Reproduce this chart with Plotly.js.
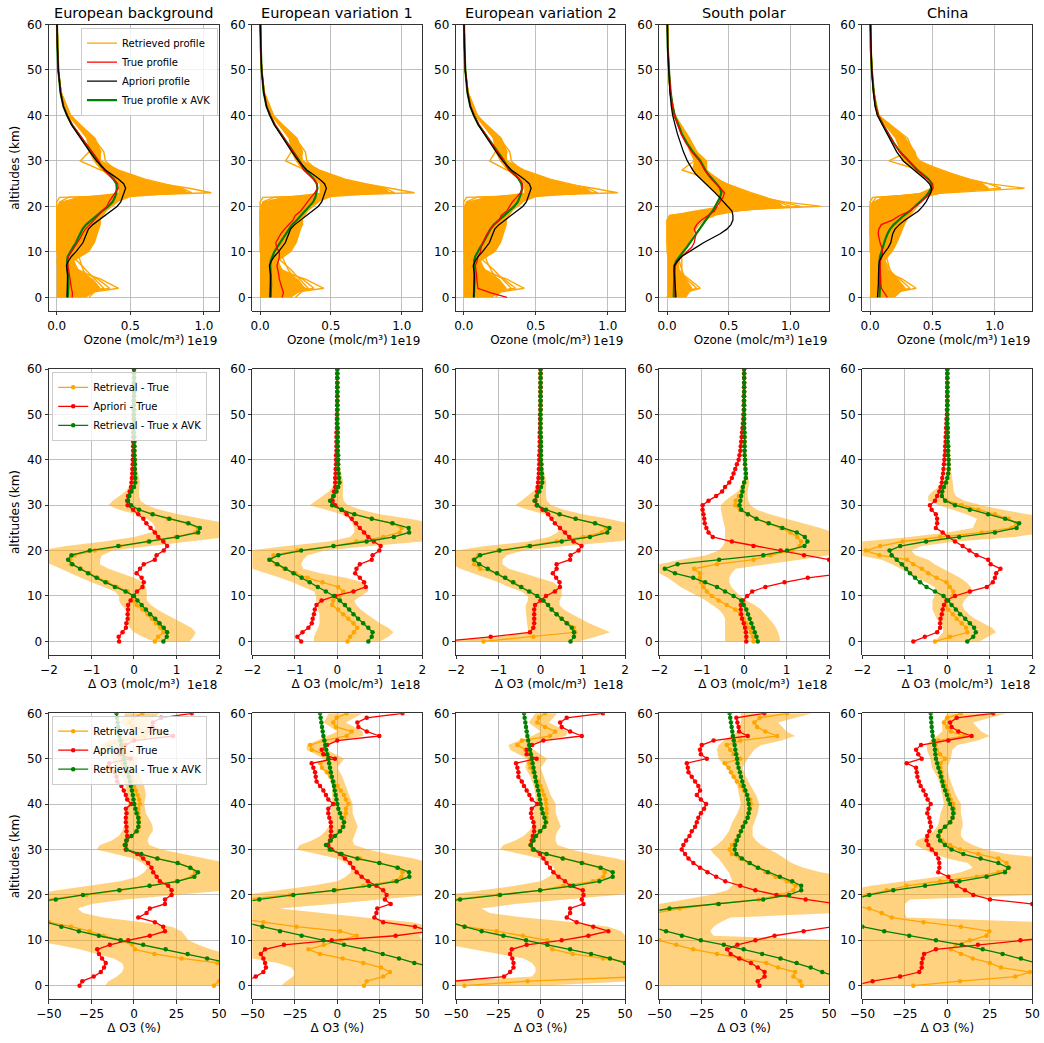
<!DOCTYPE html>
<html><head><meta charset="utf-8">
<script src="https://cdn.plot.ly/plotly-3.0.1.min.js"></script>
<style>body{margin:0;padding:0;background:#fff}#chart{width:1044px;height:1043px}</style>
</head><body><div id="chart"></div>
<script>
// ---------------- DATA ----------------
const panelTitles = ["European background","European variation 1","European variation 2","South polar","China"];
// altitude grids (km)
const ALT = [0,1,2,3,4,5,6,7,8,9,10,11,12,13,14,15,16,17,18,19,20,21,22,23,24,25,26,27,28,29,30,31,32,33,34,35,36,37,38,39,40,41,42,43,44,45,46,47,48,49,50,51,52,53,54,55,56,57,58,59,60];
const ALT_P = [0,1,2,3,4,5,6,7,8,9,10,11,12,13,14,15,16,17,18,19,20,21,22,23,24,25,26,27,28,29,30,32,34,36,38,40,42,45,50,55,60];
const ALT_R = [0,2,4,6,8,10,12,14,16,17,18,19,20,21,22,23,24,25,26,28,30,32,35,40,45,50,60];
const ALT_B2 = [0,1,2,3,4,5,6,7,8,9,10,11,12,13,14,15,16,17,18,19,20,21,22,23,24,25,26,27,28,29,30,31,32,33,34,35,36,38,40,45,50,55,60];
const ALT_B3 = [0,1,2,3,4,5,6,7,8,9,10,11,12,13,14,15,16,17,18,19,20,21,22,23,24,25,26,27,28,29,30,31,32,33,34,35,36,38,40,42,44,46,48,50,52,53,54,55,56,58,60];

// Row 1: ozone profiles (units 1e19 molc/m3), on ALT_P
const aprioriEU = [0.07,0.071,0.073,0.075,0.076,0.074,0.07,0.066,0.08,0.1,0.13,0.155,0.178,0.19,0.2,0.215,0.245,0.285,0.33,0.37,0.41,0.435,0.445,0.46,0.468,0.455,0.42,0.375,0.33,0.3,0.27,0.225,0.185,0.145,0.1,0.07,0.045,0.026,0.011,0.005,0.002];
const trueEB = [0.105,0.107,0.1,0.095,0.094,0.09,0.085,0.078,0.072,0.08,0.1,0.12,0.145,0.16,0.175,0.195,0.225,0.255,0.28,0.315,0.34,0.355,0.375,0.4,0.418,0.415,0.39,0.355,0.32,0.3,0.285,0.24,0.195,0.15,0.105,0.072,0.047,0.027,0.011,0.005,0.002];
const avkEB = [0.075,0.078,0.08,0.08,0.078,0.075,0.072,0.07,0.07,0.075,0.09,0.11,0.13,0.145,0.16,0.175,0.2,0.235,0.27,0.31,0.35,0.38,0.395,0.405,0.408,0.405,0.385,0.355,0.325,0.3,0.28,0.235,0.19,0.148,0.103,0.071,0.046,0.026,0.011,0.005,0.002];
const trueEV1 = [0.155,0.165,0.155,0.143,0.136,0.132,0.125,0.119,0.129,0.137,0.135,0.117,0.111,0.127,0.147,0.173,0.2,0.232,0.249,0.287,0.311,0.333,0.359,0.387,0.405,0.402,0.376,0.341,0.308,0.29,0.275,0.234,0.19,0.15,0.104,0.073,0.047,0.027,0.011,0.005,0.002];
const avkEV1 = [0.075,0.077,0.078,0.078,0.077,0.075,0.073,0.072,0.075,0.085,0.1,0.12,0.14,0.16,0.18,0.2,0.225,0.26,0.29,0.32,0.35,0.375,0.39,0.4,0.405,0.4,0.38,0.35,0.32,0.297,0.278,0.235,0.19,0.148,0.103,0.071,0.046,0.026,0.011,0.005,0.002];
const trueEV2 = [0.3,0.189,0.098,0.092,0.091,0.089,0.085,0.081,0.093,0.1,0.117,0.121,0.132,0.145,0.163,0.186,0.207,0.247,0.26,0.299,0.32,0.338,0.367,0.392,0.41,0.409,0.386,0.349,0.312,0.295,0.279,0.234,0.192,0.15,0.104,0.073,0.047,0.027,0.011,0.005,0.002];
const avkEV2 = [0.07,0.072,0.074,0.075,0.075,0.074,0.072,0.07,0.072,0.08,0.095,0.115,0.135,0.15,0.168,0.185,0.21,0.245,0.28,0.315,0.35,0.375,0.39,0.4,0.405,0.4,0.382,0.352,0.322,0.298,0.28,0.235,0.19,0.148,0.103,0.071,0.046,0.026,0.011,0.005,0.002];
const aprioriSP = [0.073,0.07,0.068,0.065,0.062,0.06,0.057,0.06,0.084,0.119,0.173,0.236,0.295,0.363,0.431,0.485,0.518,0.534,0.534,0.526,0.49,0.453,0.425,0.39,0.35,0.309,0.268,0.236,0.209,0.187,0.165,0.133,0.106,0.084,0.065,0.046,0.035,0.024,0.014,0.005,0.003];
const trueSP = [0.068,0.066,0.064,0.063,0.063,0.063,0.064,0.068,0.09,0.12,0.16,0.2,0.22,0.23,0.235,0.22,0.24,0.28,0.334,0.385,0.404,0.43,0.454,0.465,0.434,0.4,0.36,0.33,0.305,0.285,0.263,0.2,0.151,0.113,0.086,0.059,0.044,0.03,0.016,0.006,0.003];
const avkSP = [0.055,0.056,0.057,0.058,0.058,0.058,0.058,0.06,0.075,0.1,0.13,0.16,0.185,0.21,0.235,0.26,0.285,0.31,0.34,0.37,0.39,0.41,0.43,0.44,0.43,0.4,0.365,0.335,0.31,0.29,0.27,0.21,0.16,0.12,0.09,0.062,0.046,0.03,0.016,0.006,0.003];
const aprioriCN = [0.059,0.063,0.067,0.067,0.067,0.067,0.067,0.07,0.075,0.094,0.12,0.147,0.166,0.174,0.182,0.2,0.235,0.281,0.334,0.388,0.422,0.449,0.468,0.487,0.495,0.476,0.441,0.396,0.348,0.307,0.267,0.214,0.174,0.134,0.094,0.059,0.04,0.027,0.013,0.005,0.003];
const trueCN = [0.139,0.116,0.091,0.086,0.084,0.082,0.08,0.081,0.083,0.096,0.1,0.094,0.08,0.07,0.065,0.07,0.09,0.179,0.238,0.319,0.37,0.413,0.45,0.485,0.506,0.503,0.465,0.42,0.375,0.344,0.308,0.238,0.19,0.146,0.103,0.066,0.045,0.03,0.014,0.005,0.003];
const avkCN = [0.075,0.078,0.08,0.08,0.08,0.078,0.076,0.075,0.076,0.08,0.09,0.1,0.11,0.125,0.14,0.16,0.19,0.23,0.27,0.32,0.36,0.4,0.44,0.47,0.49,0.495,0.47,0.425,0.38,0.345,0.31,0.24,0.19,0.146,0.103,0.066,0.045,0.03,0.014,0.005,0.003];

// Dense core of the retrieved-profile bundle (lower / upper edge), on ALT_R
const envLoEB = [0,0,0,0,0,0,0,0,0,0,0,0,0,0.02,0.15,0.42,0.42,0.42,0.38,0.3,0.25,0.22,0.2,0.08,0.028,0.01,0.003];
const envHiEB = [0.2,0.3,0.25,0.15,0.12,0.22,0.26,0.28,0.3,0.3,0.32,0.34,0.38,0.42,0.5,0.9,0.85,0.7,0.6,0.42,0.3,0.3,0.26,0.095,0.032,0.011,0.003];
const envLoEV1 = [0,0,0,0,0,0,0,0,0,0,0,0,0,0.02,0.15,0.42,0.42,0.42,0.38,0.3,0.25,0.22,0.2,0.08,0.028,0.01,0.003];
const envHiEV1 = [0.22,0.32,0.27,0.16,0.13,0.22,0.26,0.28,0.3,0.3,0.32,0.34,0.38,0.42,0.5,0.92,0.88,0.72,0.6,0.42,0.3,0.3,0.26,0.095,0.032,0.011,0.003];
const envLoEV2 = [0,0,0,0,0,0,0,0,0,0,0,0,0,0.02,0.15,0.42,0.42,0.42,0.38,0.3,0.25,0.22,0.2,0.08,0.028,0.01,0.003];
const envHiEV2 = [0.2,0.3,0.25,0.15,0.12,0.22,0.26,0.28,0.3,0.3,0.32,0.34,0.38,0.42,0.5,0.9,0.85,0.7,0.6,0.42,0.3,0.3,0.26,0.095,0.032,0.011,0.003];
const envLoSP = [0,0,0,0,0,0,0,0,0,0,0.02,0.2,0.42,0.42,0.42,0.4,0.36,0.32,0.28,0.2,0.22,0.18,0.15,0.055,0.022,0.013,0.003];
const envHiSP = [0.15,0.2,0.15,0.1,0.1,0.14,0.18,0.22,0.25,0.28,0.4,0.6,0.95,0.9,0.78,0.65,0.56,0.48,0.42,0.32,0.32,0.24,0.18,0.065,0.026,0.015,0.003];
const envLoCN = [0,0,0,0,0,0,0,0,0,0,0,0,0,0.02,0.1,0.4,0.48,0.48,0.45,0.35,0.26,0.24,0.2,0.055,0.028,0.012,0.003];
const envHiCN = [0.2,0.28,0.22,0.15,0.12,0.18,0.22,0.25,0.28,0.3,0.32,0.34,0.36,0.4,0.45,0.6,0.95,0.9,0.8,0.56,0.38,0.36,0.28,0.07,0.032,0.014,0.003];

// Individual retrieved profiles (a sample of the bundle), on ALT_R
const retrievedEB = [
 [0.00,0.42,0.30,0.12,0.03,0.00,0.00,0.00,0.00,0.00,0.00,0.00,0.00,0.00,0.02,1.05,0.90,0.70,0.55,0.30,0.16,0.22,0.24,0.095,0.03,0.01,0.003],
 [0.02,0.36,0.28,0.15,0.08,0.03,0.01,0.00,0.00,0.00,0.00,0.00,0.01,0.02,0.08,0.92,0.85,0.72,0.60,0.42,0.30,0.27,0.24,0.095,0.03,0.01,0.003],
 [0.08,0.32,0.26,0.20,0.14,0.08,0.05,0.04,0.03,0.03,0.03,0.03,0.04,0.05,0.15,0.85,0.80,0.68,0.55,0.38,0.28,0.30,0.26,0.09,0.03,0.01,0.003],
 [0.15,0.28,0.22,0.18,0.16,0.14,0.12,0.10,0.08,0.08,0.07,0.07,0.06,0.08,0.25,0.75,0.75,0.65,0.55,0.40,0.33,0.32,0.25,0.09,0.03,0.01,0.003],
 [0.05,0.22,0.20,0.12,0.10,0.14,0.18,0.20,0.20,0.20,0.18,0.16,0.14,0.15,0.35,0.65,0.66,0.60,0.52,0.38,0.30,0.28,0.23,0.09,0.03,0.01,0.003],
 [0.01,0.12,0.10,0.06,0.05,0.10,0.18,0.24,0.28,0.28,0.28,0.27,0.26,0.28,0.42,0.58,0.58,0.54,0.48,0.36,0.28,0.26,0.22,0.085,0.03,0.01,0.003],
 [0.22,0.28,0.20,0.10,0.03,0.02,0.06,0.12,0.18,0.21,0.24,0.26,0.28,0.32,0.45,0.52,0.52,0.48,0.44,0.34,0.27,0.25,0.22,0.085,0.03,0.01,0.003],
 [0.00,0.06,0.05,0.02,0.00,0.03,0.10,0.16,0.22,0.26,0.30,0.32,0.34,0.38,0.46,0.48,0.47,0.44,0.40,0.32,0.26,0.24,0.21,0.08,0.03,0.01,0.003]
];
const retrievedEV1 = [
 [0.00,0.45,0.32,0.12,0.03,0.00,0.00,0.00,0.00,0.00,0.00,0.00,0.00,0.00,0.02,1.09,0.92,0.72,0.55,0.32,0.18,0.22,0.24,0.095,0.03,0.01,0.003],
 [0.04,0.38,0.30,0.16,0.08,0.03,0.01,0.00,0.00,0.00,0.00,0.00,0.01,0.02,0.10,0.95,0.88,0.74,0.60,0.42,0.30,0.27,0.24,0.095,0.03,0.01,0.003],
 [0.10,0.34,0.28,0.22,0.15,0.08,0.05,0.04,0.03,0.03,0.03,0.03,0.04,0.05,0.18,0.86,0.82,0.68,0.55,0.38,0.28,0.30,0.26,0.09,0.03,0.01,0.003],
 [0.16,0.30,0.25,0.20,0.17,0.14,0.12,0.10,0.08,0.08,0.07,0.07,0.06,0.08,0.28,0.78,0.76,0.65,0.55,0.40,0.33,0.32,0.25,0.09,0.03,0.01,0.003],
 [0.06,0.24,0.22,0.14,0.12,0.15,0.19,0.21,0.21,0.20,0.18,0.16,0.14,0.15,0.36,0.66,0.66,0.60,0.52,0.38,0.30,0.28,0.23,0.09,0.03,0.01,0.003],
 [0.02,0.14,0.12,0.08,0.06,0.12,0.20,0.26,0.30,0.30,0.29,0.28,0.27,0.29,0.42,0.58,0.58,0.54,0.48,0.36,0.28,0.26,0.22,0.085,0.03,0.01,0.003],
 [0.25,0.32,0.22,0.12,0.05,0.03,0.07,0.13,0.19,0.22,0.25,0.27,0.29,0.33,0.46,0.52,0.52,0.48,0.44,0.34,0.27,0.25,0.22,0.085,0.03,0.01,0.003],
 [0.00,0.08,0.06,0.03,0.01,0.04,0.11,0.17,0.23,0.27,0.31,0.33,0.35,0.39,0.46,0.48,0.47,0.44,0.40,0.32,0.26,0.24,0.21,0.08,0.03,0.01,0.003]
];
const retrievedEV2 = [
 [0.00,0.42,0.30,0.12,0.03,0.00,0.00,0.00,0.00,0.00,0.00,0.00,0.00,0.00,0.02,1.07,0.90,0.70,0.55,0.30,0.18,0.22,0.24,0.095,0.03,0.01,0.003],
 [0.03,0.36,0.28,0.15,0.08,0.03,0.01,0.00,0.00,0.00,0.00,0.00,0.01,0.02,0.09,0.93,0.86,0.72,0.60,0.42,0.30,0.27,0.24,0.095,0.03,0.01,0.003],
 [0.09,0.33,0.27,0.21,0.14,0.08,0.05,0.04,0.03,0.03,0.03,0.03,0.04,0.05,0.16,0.86,0.80,0.68,0.55,0.38,0.28,0.30,0.26,0.09,0.03,0.01,0.003],
 [0.15,0.29,0.23,0.19,0.16,0.14,0.12,0.10,0.08,0.08,0.07,0.07,0.06,0.08,0.26,0.76,0.75,0.65,0.55,0.40,0.33,0.32,0.25,0.09,0.03,0.01,0.003],
 [0.05,0.22,0.20,0.12,0.10,0.14,0.18,0.20,0.20,0.20,0.18,0.16,0.14,0.15,0.35,0.65,0.66,0.60,0.52,0.38,0.30,0.28,0.23,0.09,0.03,0.01,0.003],
 [0.01,0.12,0.10,0.06,0.05,0.10,0.18,0.24,0.28,0.28,0.28,0.27,0.26,0.28,0.42,0.58,0.58,0.54,0.48,0.36,0.28,0.26,0.22,0.085,0.03,0.01,0.003],
 [0.22,0.28,0.20,0.10,0.03,0.02,0.06,0.12,0.18,0.21,0.24,0.26,0.28,0.32,0.45,0.52,0.52,0.48,0.44,0.34,0.27,0.25,0.22,0.085,0.03,0.01,0.003],
 [0.00,0.06,0.05,0.02,0.00,0.03,0.10,0.16,0.22,0.26,0.30,0.32,0.34,0.38,0.46,0.48,0.47,0.44,0.40,0.32,0.26,0.24,0.21,0.08,0.03,0.01,0.003]
];
const retrievedSP = [
 [0.00,0.27,0.18,0.08,0.02,0.00,0.00,0.00,0.00,0.00,0.02,0.30,1.25,0.95,0.75,0.60,0.50,0.42,0.35,0.12,0.22,0.20,0.17,0.065,0.025,0.014,0.003],
 [0.02,0.24,0.16,0.10,0.06,0.02,0.00,0.00,0.00,0.00,0.03,0.45,1.08,0.92,0.78,0.65,0.55,0.45,0.38,0.25,0.28,0.22,0.18,0.065,0.025,0.014,0.003],
 [0.06,0.20,0.15,0.12,0.10,0.08,0.05,0.03,0.02,0.02,0.08,0.55,1.00,0.90,0.80,0.68,0.58,0.48,0.40,0.30,0.30,0.24,0.18,0.06,0.025,0.014,0.003],
 [0.10,0.18,0.14,0.12,0.12,0.12,0.10,0.08,0.06,0.06,0.15,0.55,0.85,0.82,0.74,0.65,0.56,0.48,0.40,0.32,0.32,0.24,0.18,0.06,0.025,0.014,0.003],
 [0.04,0.14,0.10,0.06,0.08,0.14,0.16,0.16,0.14,0.14,0.25,0.55,0.72,0.72,0.66,0.58,0.52,0.46,0.40,0.30,0.28,0.22,0.17,0.06,0.025,0.014,0.003],
 [0.00,0.08,0.06,0.04,0.05,0.10,0.16,0.20,0.22,0.24,0.32,0.50,0.62,0.62,0.58,0.54,0.50,0.44,0.38,0.30,0.27,0.21,0.16,0.06,0.025,0.014,0.003],
 [0.15,0.20,0.12,0.05,0.02,0.04,0.10,0.18,0.24,0.28,0.36,0.46,0.55,0.56,0.54,0.50,0.46,0.42,0.36,0.28,0.26,0.20,0.16,0.055,0.025,0.014,0.003],
 [0.00,0.04,0.04,0.02,0.01,0.04,0.12,0.20,0.26,0.30,0.38,0.44,0.48,0.50,0.50,0.46,0.42,0.38,0.34,0.27,0.25,0.20,0.16,0.055,0.025,0.014,0.003]
];
const retrievedCN = [
 [0.00,0.37,0.26,0.10,0.03,0.00,0.00,0.00,0.00,0.00,0.00,0.00,0.00,0.00,0.02,0.60,1.24,0.95,0.75,0.40,0.15,0.30,0.28,0.07,0.03,0.013,0.003],
 [0.02,0.32,0.24,0.14,0.08,0.03,0.01,0.00,0.00,0.00,0.00,0.00,0.00,0.02,0.05,0.55,1.05,0.95,0.80,0.55,0.30,0.35,0.30,0.07,0.03,0.013,0.003],
 [0.07,0.28,0.22,0.16,0.12,0.08,0.05,0.03,0.02,0.02,0.02,0.02,0.03,0.04,0.10,0.55,0.95,0.90,0.78,0.58,0.38,0.36,0.28,0.065,0.03,0.013,0.003],
 [0.12,0.24,0.20,0.16,0.14,0.12,0.10,0.08,0.06,0.06,0.06,0.06,0.07,0.10,0.20,0.55,0.85,0.82,0.72,0.55,0.40,0.34,0.27,0.065,0.03,0.013,0.003],
 [0.04,0.18,0.16,0.10,0.08,0.12,0.16,0.18,0.18,0.18,0.18,0.18,0.20,0.24,0.32,0.52,0.72,0.72,0.66,0.50,0.36,0.30,0.25,0.065,0.03,0.013,0.003],
 [0.00,0.10,0.08,0.05,0.04,0.08,0.16,0.22,0.26,0.27,0.28,0.30,0.32,0.34,0.38,0.50,0.62,0.64,0.58,0.45,0.33,0.28,0.24,0.06,0.03,0.013,0.003],
 [0.16,0.22,0.15,0.06,0.02,0.03,0.08,0.14,0.20,0.22,0.25,0.28,0.30,0.34,0.40,0.48,0.55,0.56,0.52,0.42,0.31,0.27,0.23,0.06,0.03,0.013,0.003],
 [0.00,0.05,0.04,0.02,0.01,0.03,0.10,0.17,0.24,0.28,0.32,0.35,0.38,0.40,0.44,0.48,0.52,0.52,0.48,0.38,0.30,0.26,0.22,0.06,0.03,0.013,0.003]
];

// Row 2: absolute differences (units 1e18 molc/m3), on ALT
const dRetEB = [0.49,0.57,0.69,0.62,0.52,0.42,0.32,0.20,0.06,-0.02,-0.02,-0.15,-0.40,-0.62,-0.85,-1.05,-1.25,-1.49,-1.50,-1.40,-0.92,-0.33,0.33,0.98,1.45,1.50,1.25,0.80,0.42,0.10,-0.08,-0.15,-0.12,-0.07,-0.01,0.02,0.03,0.03,0.02,0.02,0.01,0.01,0.01,0.01,0,0,0,0,0,0,0,0,0,0,0,0,0,0,0,0,0];
const dAvkEB = [0.69,0.77,0.78,0.70,0.60,0.50,0.38,0.28,0.18,0.08,0.0,-0.20,-0.45,-0.67,-0.88,-1.08,-1.27,-1.45,-1.55,-1.47,-1.04,-0.37,0.36,1.02,1.51,1.55,1.28,0.83,0.44,0.12,-0.07,-0.14,-0.11,-0.06,0.0,0.03,0.03,0.02,0.02,0.02,0.02,0.01,0.01,0.01,0.01,0.01,0,0,0,0,0,0,0,0,0,0,0,0,0,0,0];
const dAprEB = [-0.35,-0.36,-0.27,-0.19,-0.18,-0.15,-0.15,-0.14,-0.14,-0.08,-0.02,0.07,0.20,0.23,0.18,0.06,0.14,0.23,0.49,0.53,0.70,0.78,0.69,0.57,0.49,0.39,0.29,0.22,0.10,-0.02,-0.15,-0.16,-0.14,-0.10,-0.07,-0.06,-0.05,-0.04,-0.04,-0.03,-0.03,-0.02,-0.02,-0.02,-0.02,-0.02,-0.02,-0.02,-0.01,-0.01,-0.01,-0.01,-0.01,-0.01,0,0,0,0,0,0,0];
const dRetEV1 = [0.24,0.30,0.39,0.47,0.38,0.26,0.14,0.02,-0.12,-0.10,0.05,0.14,0.02,-0.35,-0.70,-0.98,-1.25,-1.45,-1.57,-1.50,-0.94,-0.09,0.45,1.08,1.47,1.51,1.28,0.81,0.40,0.10,-0.12,-0.17,-0.09,-0.02,0.02,0.05,0.04,0.03,0.02,0.02,0.02,0.01,0.01,0.01,0.01,0.01,0.01,0,0,0,0,0,0,0,0,0,0,0,0,0,0];
const dAvkEV1 = [0.73,0.81,0.83,0.73,0.61,0.49,0.38,0.28,0.18,0.06,-0.08,-0.27,-0.46,-0.65,-0.84,-1.03,-1.22,-1.41,-1.60,-1.39,-0.85,-0.09,0.69,1.33,1.69,1.68,1.30,0.81,0.40,0.10,-0.12,-0.17,-0.09,-0.02,0.02,0.05,0.04,0.03,0.02,0.02,0.02,0.02,0.01,0.01,0.01,0.01,0.01,0.01,0,0,0,0,0,0,0,0,0,0,0,0,0];
const dAprEV1 = [-0.85,-0.94,-0.82,-0.68,-0.60,-0.58,-0.55,-0.53,-0.49,-0.37,-0.05,0.38,0.67,0.63,0.53,0.42,0.45,0.53,0.81,0.83,0.99,1.02,0.86,0.73,0.63,0.53,0.44,0.34,0.22,0.10,-0.05,-0.11,-0.09,-0.08,-0.05,-0.05,-0.05,-0.04,-0.04,-0.03,-0.03,-0.03,-0.02,-0.02,-0.02,-0.02,-0.02,-0.01,-0.01,-0.01,-0.01,0,0,0,0,0,0,0,0,0,0];
const dRetEV2 = [-1.35,-0.17,0.82,0.79,0.64,0.50,0.38,0.27,0.17,0.05,-0.06,-0.25,-0.44,-0.63,-0.82,-1.03,-1.43,-1.57,-1.59,-1.47,-1.0,-0.3,0.38,1.01,1.45,1.55,1.29,0.83,0.45,0.13,-0.08,-0.14,-0.09,-0.03,0.01,0.04,0.04,0.03,0.02,0.02,0.01,0.01,0.01,0.01,0.01,0,0,0,0,0,0,0,0,0,0,0,0,0,0,0,0];
const dAvkEV2 = [0.71,0.79,0.79,0.74,0.62,0.50,0.38,0.26,0.18,0.07,-0.08,-0.27,-0.46,-0.65,-0.84,-1.03,-1.25,-1.45,-1.57,-1.43,-0.97,-0.25,0.50,1.17,1.58,1.63,1.29,0.83,0.45,0.13,-0.08,-0.14,-0.09,-0.03,0.01,0.04,0.04,0.03,0.02,0.02,0.01,0.01,0.01,0.01,0.01,0.01,0,0,0,0,0,0,0,0,0,0,0,0,0,0,0];
const dAprEV2 = [-2.3,-1.18,-0.25,-0.17,-0.15,-0.15,-0.15,-0.15,-0.13,0.0,0.13,0.34,0.46,0.45,0.37,0.29,0.38,0.38,0.70,0.71,0.90,0.97,0.78,0.68,0.58,0.46,0.34,0.26,0.18,0.05,-0.09,-0.12,-0.09,-0.08,-0.07,-0.06,-0.05,-0.04,-0.04,-0.03,-0.03,-0.03,-0.02,-0.02,-0.02,-0.02,-0.02,-0.01,-0.01,-0.01,-0.01,0,0,0,0,0,0,0,0,0,0];
const dRetSP = [0.22,0.21,0.16,0.11,0.05,-0.01,-0.09,-0.21,-0.41,-0.60,-0.76,-0.88,-0.96,-1.02,-1.04,-1.04,-1.18,-0.64,0.22,0.62,1.13,1.31,1.34,1.25,1.09,0.86,0.56,0.28,0.08,-0.10,-0.21,-0.20,-0.12,-0.05,-0.03,0.0,0.04,0.04,0.03,0.02,0.02,0.01,0.01,0.01,0.01,0.01,0,0,0,0,0,0,0,0,0,0,0,0,0,0,0];
const dAvkSP = [0.32,0.29,0.25,0.21,0.17,0.13,0.09,0.05,-0.01,-0.07,-0.25,-0.45,-0.64,-0.92,-1.20,-1.63,-1.87,-1.57,-0.59,0.45,1.01,1.42,1.49,1.43,1.24,0.90,0.58,0.29,0.09,-0.07,-0.11,-0.09,-0.07,-0.04,-0.03,0.0,0.04,0.04,0.03,0.02,0.02,0.01,0.01,0.01,0.01,0.01,0.01,0,0,0,0,0,0,0,0,0,0,0,0,0,0];
const dAprSP = [0.05,0.05,0.04,0.02,-0.01,-0.05,-0.07,-0.08,-0.08,-0.03,0.07,0.19,0.50,0.95,1.50,2.4,2.8,2.5,2.0,1.41,0.86,0.22,-0.29,-0.74,-0.84,-0.89,-0.93,-0.94,-0.96,-0.98,-0.98,-0.84,-0.66,-0.52,-0.45,-0.35,-0.29,-0.25,-0.21,-0.17,-0.13,-0.11,-0.09,-0.08,-0.07,-0.06,-0.05,-0.04,-0.03,-0.02,-0.02,-0.01,-0.01,-0.01,-0.01,0,0,0,0,0,0];
const dRetCN = [-0.29,0.06,0.47,0.44,0.34,0.22,0.13,0.02,-0.05,-0.02,0.13,0.14,0.06,-0.02,-0.25,-0.45,-0.60,-0.80,-0.95,-1.60,-1.92,-1.58,-1.05,-0.17,0.81,1.51,1.63,1.44,1.12,0.73,0.34,-0.02,-0.13,-0.12,-0.08,-0.03,0.0,0.02,0.03,0.03,0.03,0.02,0.02,0.02,0.01,0.01,0.01,0.01,0,0,0,0,0,0,0,0,0,0,0,0,0];
const dAvkCN = [0.47,0.61,0.67,0.63,0.53,0.42,0.30,0.20,0.10,0.02,-0.09,-0.29,-0.49,-0.64,-0.76,-0.88,-0.97,-1.07,-1.19,-1.31,-1.36,-1.11,-0.50,0.28,1.12,1.63,1.69,1.36,0.96,0.53,0.18,-0.05,-0.13,-0.12,-0.08,-0.03,0.0,0.02,0.03,0.03,0.03,0.02,0.02,0.02,0.01,0.01,0.01,0.01,0,0,0,0,0,0,0,0,0,0,0,0,0];
const dAprCN = [-0.80,-0.53,-0.24,-0.17,-0.17,-0.16,-0.13,-0.11,-0.08,-0.02,0.18,0.53,0.93,1.07,1.12,1.15,1.25,1.02,0.96,0.69,0.52,0.36,0.18,0.02,-0.11,-0.27,-0.24,-0.24,-0.27,-0.37,-0.41,-0.29,-0.24,-0.19,-0.16,-0.13,-0.12,-0.10,-0.09,-0.08,-0.07,-0.06,-0.05,-0.05,-0.04,-0.04,-0.03,-0.03,-0.02,-0.02,-0.01,-0.01,0,0,0,0,0,0,0,0,0];

// Row 2 spread band (units 1e18), on ALT_B2
const dLoEB = [0.47,0.2,0.0,-0.1,-0.15,-0.15,-0.15,-0.2,-0.3,-0.35,-0.35,-0.45,-0.75,-1.0,-1.25,-1.5,-1.75,-2.0,-2.2,-2.3,-2.2,-1.6,-0.7,0.0,0.4,0.5,0.45,0.3,0.05,-0.35,-0.6,-0.5,-0.35,-0.2,-0.12,-0.08,-0.05,-0.02,-0.01,-0.01,0,0,0];
const dHiEB = [1.3,1.4,1.45,1.35,1.15,0.95,0.75,0.55,0.4,0.3,0.3,0.3,0.28,0.2,0.0,-0.3,-0.6,-0.8,-0.8,-0.75,-0.5,0.3,1.3,2.2,2.5,2.5,2.2,1.6,1.05,0.6,0.3,0.15,0.12,0.12,0.12,0.14,0.12,0.07,0.04,0.02,0.01,0.01,0.01];
const dLoEV1 = [-0.55,-0.55,-0.5,-0.45,-0.42,-0.42,-0.42,-0.45,-0.47,-0.5,-0.5,-0.55,-0.8,-1.05,-1.35,-1.7,-2.0,-2.2,-2.3,-2.3,-2.1,-1.2,-0.2,0.3,0.4,0.4,0.35,0.3,0.1,-0.3,-0.65,-0.5,-0.35,-0.2,-0.12,-0.06,-0.03,0,0,0,0,0,0];
const dHiEV1 = [1.0,1.2,1.32,1.2,1.0,0.85,0.7,0.55,0.45,0.4,0.55,0.72,0.73,0.6,0.2,-0.4,-0.8,-0.85,-0.8,-0.7,-0.3,0.8,2.0,2.5,2.6,2.6,2.3,1.7,1.0,0.55,0.25,0.15,0.13,0.13,0.13,0.14,0.12,0.07,0.04,0.02,0.01,0.01,0.01];
const dLoEV2 = [-2.5,-1.0,-0.3,-0.3,-0.32,-0.33,-0.35,-0.35,-0.35,-0.3,-0.3,-0.45,-0.75,-1.0,-1.3,-1.6,-1.9,-2.1,-2.2,-2.2,-2.0,-1.3,-0.3,0.2,0.4,0.45,0.4,0.3,0.1,-0.3,-0.6,-0.45,-0.3,-0.18,-0.1,-0.05,-0.02,0,0,0,0,0,0];
const dHiEV2 = [0.9,1.3,1.65,1.4,1.15,0.95,0.75,0.55,0.45,0.45,0.5,0.5,0.45,0.3,0.0,-0.4,-0.75,-0.9,-0.9,-0.8,-0.4,0.6,1.8,2.5,2.6,2.6,2.2,1.6,1.0,0.55,0.25,0.15,0.13,0.13,0.13,0.14,0.12,0.07,0.04,0.02,0.01,0.01,0.01];
const dLoSP = [-0.45,-0.45,-0.45,-0.45,-0.45,-0.45,-0.5,-0.6,-0.75,-0.9,-1.1,-1.3,-1.5,-1.65,-1.8,-2.0,-2.1,-2.0,-1.5,-0.9,-0.6,-0.5,-0.45,-0.45,-0.45,-0.45,-0.48,-0.5,-0.52,-0.55,-0.55,-0.45,-0.3,-0.15,-0.08,-0.04,-0.02,0,0,0,0,0,0];
const dHiSP = [0.85,0.83,0.8,0.75,0.68,0.6,0.5,0.4,0.25,0.05,-0.1,-0.2,-0.3,-0.35,-0.35,-0.3,-0.2,0.5,1.3,2.0,2.3,2.4,2.4,2.3,2.1,1.8,1.4,1.0,0.6,0.3,0.15,0.1,0.08,0.08,0.1,0.12,0.1,0.06,0.04,0.02,0.01,0.01,0.01];
const dLoCN = [-0.3,-0.2,-0.1,-0.1,-0.15,-0.25,-0.3,-0.35,-0.35,-0.35,-0.3,-0.25,-0.3,-0.5,-0.75,-0.9,-1.1,-1.3,-1.55,-2.1,-2.3,-2.3,-2.0,-0.9,0.0,0.6,0.65,0.7,0.45,0.1,-0.2,-0.45,-0.45,-0.35,-0.2,-0.1,-0.05,0,0,0,0,0,0];
const dHiCN = [0.75,0.95,1.15,1.05,0.85,0.65,0.5,0.4,0.35,0.4,0.5,0.6,0.55,0.45,0.3,0.1,-0.1,-0.3,-0.45,-0.75,-0.85,-0.6,0.2,1.6,2.3,2.6,2.6,2.4,1.9,1.3,0.8,0.4,0.2,0.15,0.14,0.13,0.12,0.08,0.05,0.02,0.01,0.01,0.01];

// Row 3: relative differences (%), on ALT
const pRetEB = [47,50,56,58,55,49,28,12,0.5,-1,-8,-18,-26,-37,-50,-60,-67,-70,-64,-52,-28,-8,9,25,34,36,33,26,14,3,-5,-5.5,-4,-1.5,2,3,3,3,2.5,2.5,3.5,3,2,1,0,-1,-2,-3,-5,-7,-5,-8,-14,-15,-7,6,8,-1,-2.5,-0.5,5];
const pAvkEB = [86,92,88,78,65,56,43,31.5,18.6,5.4,-7.9,-20.7,-32.4,-42.7,-52,-61,-68,-72,-68,-46,-30,-8.7,9.2,25.6,35.5,37.6,33.1,25.6,13.7,4.3,-4.4,-5.4,-4.5,-1.5,1.5,2.5,2.7,2.5,1.5,0.8,0.2,-0.3,-0.7,-1.2,-1.8,-2.4,-3.1,-3.8,-4.6,-5.3,-6,-6.5,-7,-7.5,-8,-8.5,-9,-9.3,-9.6,-10,-10.3];
const pAprEB = [-32,-30.4,-23.7,-19.5,-17.6,-16.6,-18.8,-20.6,-21.6,-14.2,-3.4,9.3,18.2,17.2,12.3,2.5,7.4,9.3,18.2,18.2,22.1,22.1,20.1,15.2,13.3,11.3,10.3,8.3,5.4,1.9,-4.8,-4.8,-4.4,-4,-4.4,-4.4,-4.8,-4.8,-4.4,-4.8,-1.5,-4,-4.8,-6,-7.4,-9.9,-10.3,-11.3,-14.2,-14.6,-2,-8,-9,-5,0,23,15,11,11,16,34];
const pRetEV1 = [15.7,17.3,27,31,25.7,15.3,3.1,-10.2,-17,-8,2,11.4,1.6,-24,-43.5,-60,-68,-70,-65,-55,-27.8,-0.4,15.3,33,37.8,38.4,35,25,13.3,2,-5,-6,-4,-2,1,3,4,4,5,5,6.5,5,4,2,0,-2,-4,-6,-9,-10,-5,-8,-15,-16,-8,5.5,8.4,-0.8,-2.4,-0.4,5.5];
const pAvkEV1 = [80,85,82,72,58,45.3,36.3,26.7,15.9,3.9,-8.2,-21,-33.7,-44.1,-55,-62,-68,-70,-62,-45.9,-25.9,-2,18.8,34.9,42.4,42.2,35.5,24.7,11.8,2.5,-4.3,-6.7,-3.9,-1.4,1.6,3.5,3.9,2.5,1.6,0.6,0,-0.5,-1,-1.5,-2,-2.6,-3.2,-3.8,-4.3,-4.8,-5.3,-5.9,-6.5,-7.1,-7.6,-8.2,-8.6,-9,-9.4,-9.8,-10.2];
const pAprEV1 = [-60,-53,-48,-43.5,-42,-42.5,-43.5,-45,-42.5,-31.4,-3.3,34.3,55,45.7,27,21.8,23,23.5,31.4,28,29,27,23,18,14.3,11.4,9.4,7.5,4.5,1.6,-3.3,-5.3,-4.3,-3.9,-3.7,-3.7,-3.9,-4.7,-5.3,-5.3,-2.4,-5.3,-6.7,-8.2,-10.2,-12.2,-12.7,-13.1,-14.1,-15.1,-1.4,-8.2,-9.2,-6,0,24.7,17.3,12.4,11.8,17.3,38.4];
const pRetEV2 = [-45,-7.6,60,58,55,55,37,19,7,4,4,-10.5,-26,-44.7,-55,-60,-66,-68,-63,-52,-25,-0.3,13.5,31,37.2,38,35,25,13.5,3,-5,-6,-4,-2.5,0,2.5,3.5,3.5,3.5,3.5,3.3,3,2,1,0,-1.5,-3,-4.5,-6,-6.5,-6,-6,-9,-13.7,-11,5.6,8.6,2.7,-1.9,-1,2.7];
const pAvkEV2 = [80,85,82,72,60,50,41.1,29.9,17.5,4.0,-8.6,-22,-34.8,-45,-55,-62,-67,-68,-62,-47.6,-24,-0.3,19.4,34.8,42.7,42.7,35.6,24.4,13.1,3.6,-4.2,-5.8,-4.2,-2.7,-0.3,2.3,3.1,2.3,1.3,0.7,0.1,-0.4,-0.9,-1.4,-2,-2.7,-3.2,-3.7,-4.2,-4.7,-5.2,-5.7,-6.2,-6.7,-7.3,-7.8,-8.2,-8.6,-9,-9.4,-9.8];
const pAprEV2 = [-80,-52,-21.6,-18,-16,-16,-16.7,-18,-17,-8.2,12.5,28.3,40.1,31.2,21.4,15.5,17.5,17.5,25.4,24.4,25.4,25,17.5,14.5,10.6,7.6,5.6,3.6,1.7,-0.3,-4.2,-5.8,-5.2,-4.6,-3.8,-3.8,-4.2,-5.2,-5.6,-5.2,-1.9,-5.2,-6.6,-8.2,-9.8,-11.1,-13.1,-13.1,-13.7,-14.5,-2.3,-8.2,-8.2,-5,1.7,24.4,17.5,12.5,11.6,15.5,36.9];
const pRetSP = [34,33,29,30,20,13,-2,-16,-30,-40,-50,-55,-58,-60,-60,-58,-52,-38,-16,8.6,21.4,29,30.3,25.3,18.4,12.5,7.6,2.7,-2.3,-7.2,-8.6,-7.2,-5,-3,-2,-1,0.5,1.5,2.5,3.5,4,3.6,2,0,-2,-4.2,-6.2,-7.8,-9.2,-11.5,-2.3,-6.2,-8.2,-10.2,-2.3,19.4,12.5,7.6,6,9.2,25.3];
const pAvkSP = [70,64,55,46,39.2,30.9,21.4,10.6,-0.3,-12,-25.5,-36.7,-46,-55,-62,-65,-60,-44,-15,11.2,26.4,33.6,33.6,28.3,21,14,8.2,3.3,-1.3,-4.6,-5.6,-5.2,-4.2,-3.3,-1.9,-0.7,0.7,2.1,2.7,3.1,2.7,2.3,1.7,0.7,-0.3,-1.1,-1.9,-2.5,-3.3,-3.9,-4.2,-4.7,-5.2,-5.6,-6.1,-6.6,-7,-7.4,-7.8,-8.2,-8.6];
const pAprSP = [9,8,12,12,8,4,-3,-8,-10,-4,6.6,17.9,35,55,70,72,72,65,55,36.2,19,6.6,-2.3,-11.1,-16.5,-21.6,-26,-29.9,-32.8,-34.8,-36.8,-35.8,-34.2,-32.2,-30.9,-28.9,-27.9,-27,-25.5,-23.6,-22.4,-25.5,-27.9,-26,-27,-28.9,-30.9,-32.8,-33.2,-33.8,-22,-25.5,-26,-25,-18,2.1,-3,-3.3,-4,-4.6,11.9];
const pRetCN = [-20,7.5,40,48.6,31.6,25,15,8,2,5,13.3,23,24.7,8,-14,-32.7,-38.6,-46,-60,-60,-47,-35.7,-23.9,-4.3,17.3,30,36.5,34.9,30,18.2,7.5,1.6,-3,-5,-4,-1,2,3,4,4,3.5,2,1,0,-1,-2,-3,-3.5,-4,-4,-1.4,-4.3,-6.3,-7,-5.3,10,2,0,-2,0,8];
const pAvkCN = [80,85,82,72,62,52,43.3,32.5,20.8,8.4,-6.7,-22.4,-37.1,-50,-58,-63,-66,-67,-62,-55,-45.9,-31.8,-13.1,7.1,23.1,33.9,35.9,30,19.6,9.4,2.5,-1.4,-4.3,-5.3,-4.3,-1.4,1.6,3.1,3.5,3.1,1.6,0.6,-0.3,-1.3,-2.4,-3,-3.7,-4.4,-5.3,-6,-6.7,-7,-7.3,-7.7,-8,-8.6,-8.9,-9.2,-9.4,-9.6,-9.8];
const pAprCN = [-55,-44,-27.8,-16.5,-15.1,-15.1,-14.5,-13.7,-6.7,18,43,70,80,80,80,80,80,75,50,25.1,15.3,10.4,5.5,2.5,0.6,-5.3,-4.7,-4.7,-5.3,-6.7,-9.2,-11.2,-12.2,-11.8,-10.6,-9.6,-10.2,-10.6,-11.8,-11.2,-9.8,-11.6,-12.7,-14.1,-15.7,-16.7,-17.6,-18,-18.4,-23.9,-15.1,-17.1,-18.4,-15.5,0.6,14.3,6.5,2.5,1.6,5.5,27];

// Row 3 spread band (%), on ALT_B3
const pLoEB = [-17,-15,-10,-7,-6,-7,-12,-22,-32,-45,-60,-60,-60,-60,-60,-60,-60,-60,-60,-60,-60,-45,-25,-8,2,6,8,5,0,-12,-22,-20,-13,-9,-7,-6,-5,-4.4,-3.5,-4,-5,-7,-11,-12,-18,-20,-15,-5,-2,-8,-5];
const pHiEB = [60,60,60,60,60,60,60,55,45,38,32,30,28,22,5,-18,-30,-33,-25,-5,25,55,60,60,60,60,60,55,42,28,16,9,8,9,11,11,10,7,6,7,6,4,1,2,-5,-8,0,15,18,8,15];
const pLoEV1 = [-33,-30,-26,-25,-27,-35,-50,-58,-60,-60,-60,-60,-60,-60,-60,-60,-60,-60,-60,-60,-55,-35,-15,0,5,8,8,5,0,-12,-24,-22,-15,-10,-7,-5,-4,-4,-3,-3,-3,-5,-10,-8,-18,-18,-12,-5,0,-8,-5];
const pHiEV1 = [60,60,60,60,60,60,60,60,60,55,50,48,52,55,44,16,-10,-34,-3,27,55,60,60,60,60,60,60,55,45,30,18,10,9,10,11,12,11,9,9,7,5,3,0,4,-6,-8,2,15,15,5,15];
const pLoEV2 = [-60,-55,-5,-3,-3,-5,-10,-25,-40,-55,-60,-60,-60,-60,-60,-60,-60,-60,-60,-60,-55,-35,-15,0,5,8,8,5,0,-12,-24,-22,-15,-10,-7,-5,-4,-4,-3,-3,-4,-6,-9,-8,-18,-19,-13,-5,0,-7,-3];
const pHiEV2 = [0,55,60,60,60,60,60,60,60,60,55,50,48,40,20,-10,-30,-35,-15,15,45,60,60,60,60,60,60,55,45,30,18,10,9,9,10,12,11,9,9,6,4,2,0,4,-4,-7,2,15,16,5,10];
const pLoSP = [-60,-60,-60,-60,-60,-60,-60,-60,-60,-60,-60,-60,-60,-60,-60,-60,-60,-60,-50,-35,-20,-10,-7,-7,-8,-9,-11,-13,-15,-18,-20,-16,-13,-11,-9,-8,-7,-4,-2,-3,-4,-7,-10,-15,-16,-15,-12,-8,-4,-2,-2];
const pHiSP = [60,60,60,60,60,60,60,60,60,60,55,-18,-20,-18,-14,-8,55,60,60,60,60,60,60,60,60,45,35,28,24,20,15,10,7,5,5,5,6,8,9,7,4,1,-1,2,6,10,22,30,25,20,40];
const pLoCN = [-60,-60,-60,-60,-60,-60,-60,-60,-60,-60,-60,-60,-60,-60,-60,-60,-60,-60,-60,-60,-60,-60,-45,-25,-5,8,15,12,0,-8,-14,-19,-18,-12,-8,-6,-5,-4,-2,-3,-4,-6,-9,-10,-12,-12,-10,-6,-3,-3,0];
const pHiCN = [60,60,60,60,60,60,60,60,60,60,60,60,60,60,55,-24,-25,-25,-25,-22,55,60,60,60,60,60,60,60,60,35,22,15,10,8,8,9,9,8,8,5,3,1,0,2,3,6,18,25,20,15,35];

// ---------------- BUILD ----------------
const FONT = 'DejaVu Sans, sans-serif';
const ORANGE = '#FFA500', RED = '#FF0000', GREEN = '#008000', BLACK = '#000000';
const BANDFILL = 'rgba(255,165,0,0.5)';

const panels = [
  {ret: retrievedEB, eLo: envLoEB, eHi: envHiEB, tru: trueEB, apr: aprioriEU, avk: avkEB, dRet: dRetEB, dApr: dAprEB, dAvk: dAvkEB, dLo: dLoEB, dHi: dHiEB, pRet: pRetEB, pApr: pAprEB, pAvk: pAvkEB, pLo: pLoEB, pHi: pHiEB},
  {ret: retrievedEV1, eLo: envLoEV1, eHi: envHiEV1, tru: trueEV1, apr: aprioriEU, avk: avkEV1, dRet: dRetEV1, dApr: dAprEV1, dAvk: dAvkEV1, dLo: dLoEV1, dHi: dHiEV1, pRet: pRetEV1, pApr: pAprEV1, pAvk: pAvkEV1, pLo: pLoEV1, pHi: pHiEV1},
  {ret: retrievedEV2, eLo: envLoEV2, eHi: envHiEV2, tru: trueEV2, apr: aprioriEU, avk: avkEV2, dRet: dRetEV2, dApr: dAprEV2, dAvk: dAvkEV2, dLo: dLoEV2, dHi: dHiEV2, pRet: pRetEV2, pApr: pAprEV2, pAvk: pAvkEV2, pLo: pLoEV2, pHi: pHiEV2},
  {ret: retrievedSP, eLo: envLoSP, eHi: envHiSP, tru: trueSP, apr: aprioriSP, avk: avkSP, dRet: dRetSP, dApr: dAprSP, dAvk: dAvkSP, dLo: dLoSP, dHi: dHiSP, pRet: pRetSP, pApr: pAprSP, pAvk: pAvkSP, pLo: pLoSP, pHi: pHiSP},
  {ret: retrievedCN, eLo: envLoCN, eHi: envHiCN, tru: trueCN, apr: aprioriCN, avk: avkCN, dRet: dRetCN, dApr: dAprCN, dAvk: dAvkCN, dLo: dLoCN, dHi: dHiCN, pRet: pRetCN, pApr: pAprCN, pAvk: pAvkCN, pLo: pLoCN, pHi: pHiCN}
];

const xDom = [[0.0469,0.2098],[0.2417,0.4045],[0.4368,0.5987],[0.6315,0.7941],[0.8260,0.9888]];
const yDom = [[0.7018,0.9765],[0.3720,0.6462],[0.0419,0.3161]];
const row1Range = [[-0.0525,1.1025],[-0.0545,1.145],[-0.0535,1.12],[-0.0625,1.3125],[-0.062,1.302]];

const traces = [];
const layout = {
  width: 1044, height: 1043,
  margin: {l:0, r:0, t:0, b:0},
  paper_bgcolor: '#ffffff', plot_bgcolor: '#ffffff',
  font: {family: FONT, size: 12, color: '#000'},
  showlegend: true,
  annotations: []
};
const legendBase = {bgcolor:'rgba(255,255,255,0.8)', bordercolor:'#cccccc', borderwidth:1,
  font:{family:FONT, size:10, color:'#000'}, itemwidth:30, tracegroupgap:0};
layout.legend = Object.assign({x:0.2088, xanchor:'right', y:0.9735, yanchor:'top'}, legendBase);
layout.legend2 = Object.assign({x:0.0500, xanchor:'left', y:0.6435, yanchor:'top'}, legendBase);
layout.legend3 = Object.assign({x:0.0500, xanchor:'left', y:0.3138, yanchor:'top'}, legendBase);

function sfx(n){ return n === 1 ? '' : String(n); }
function axisCommon(){
  return {showline:true, mirror:true, linecolor:'#000', linewidth:0.8,
    ticks:'outside', ticklen:3.5, tickwidth:0.8, tickcolor:'#000',
    showgrid:true, gridcolor:'#b0b0b0', gridwidth:0.8, zeroline:false,
    tickfont:{family:FONT, size:12, color:'#000'}, fixedrange:true};
}

const xTitles = ['Ozone (molc/m\u00b3)', '\u0394 O3 (molc/m\u00b3)', '\u0394 O3 (%)'];
const offsets = ['1e19', '1e18', null];

for (let c = 0; c < 5; c++) {
  const P = panels[c];
  for (let r = 0; r < 3; r++) {
    const n = r * 5 + c + 1;
    const xa = 'x' + sfx(n), ya = 'y' + sfx(n);
    const xax = axisCommon(), yax = axisCommon();
    xax.domain = xDom[c]; xax.anchor = ya;
    yax.domain = yDom[r]; yax.anchor = xa;
    yax.range = [-3, 60]; yax.tick0 = 0; yax.dtick = 10;
    if (r === 0) { xax.range = row1Range[c]; xax.tick0 = 0; xax.dtick = 0.5; xax.tickformat = '.1f'; }
    if (r === 1) { xax.range = [-2, 2]; xax.tick0 = 0; xax.dtick = 1; }
    if (r === 2) { xax.range = [-50, 50]; xax.tick0 = 0; xax.dtick = 25; }
    xax.title = {text: xTitles[r], font:{family:FONT, size:12, color:'#000'}, standoff: 3};
    if (c === 0) yax.title = {text:'altitudes (km)', font:{family:FONT, size:12, color:'#000'}, standoff: 4};
    layout['xaxis' + sfx(n)] = xax;
    layout['yaxis' + sfx(n)] = yax;

    if (offsets[r]) {
      layout.annotations.push({text: offsets[r], xref:'paper', yref:'paper', x: xDom[c][1], y: yDom[r][0],
        xanchor:'right', yanchor:'top', yshift:-21, showarrow:false, font:{family:FONT, size:12, color:'#000'}});
    }

    if (r === 0) {
      traces.push({x: P.eLo.concat(P.eHi.slice().reverse()), y: ALT_R.concat(ALT_R.slice().reverse()),
        xaxis: xa, yaxis: ya, type:'scatter', mode:'lines', fill:'toself', fillcolor:ORANGE,
        line:{width:0, color:'rgba(0,0,0,0)'}, showlegend:false, hoverinfo:'skip'});
      P.ret.forEach((prof, i) => traces.push({x: prof, y: ALT_R, xaxis: xa, yaxis: ya, type:'scatter', mode:'lines',
        line:{color:ORANGE, width:1.4}, name:'Retrieved profile', legend:'legend', legendrank:1,
        showlegend: c === 0 && i === 0, hoverinfo:'skip'}));
      traces.push({x: P.avk, y: ALT_P, xaxis: xa, yaxis: ya, type:'scatter', mode:'lines', line:{color:GREEN, width:2.2},
        name:'True profile x AVK', legend:'legend', legendrank:4, showlegend: c === 0, hoverinfo:'skip'});
      traces.push({x: P.tru, y: ALT_P, xaxis: xa, yaxis: ya, type:'scatter', mode:'lines', line:{color:RED, width:1.3},
        name:'True profile', legend:'legend', legendrank:2, showlegend: c === 0, hoverinfo:'skip'});
      traces.push({x: P.apr, y: ALT_P, xaxis: xa, yaxis: ya, type:'scatter', mode:'lines', line:{color:BLACK, width:1.3},
        name:'Apriori profile', legend:'legend', legendrank:3, showlegend: c === 0, hoverinfo:'skip'});
    } else {
      const lo = r === 1 ? P.dLo : P.pLo, hi = r === 1 ? P.dHi : P.pHi;
      const balt = r === 1 ? ALT_B2 : ALT_B3;
      const ret = r === 1 ? P.dRet : P.pRet, apr = r === 1 ? P.dApr : P.pApr, avk = r === 1 ? P.dAvk : P.pAvk;
      const lg = r === 1 ? 'legend2' : 'legend3';
      traces.push({x: lo.concat(hi.slice().reverse()), y: balt.concat(balt.slice().reverse()), xaxis: xa, yaxis: ya,
        type:'scatter', mode:'lines', fill:'toself', fillcolor:BANDFILL, line:{width:0, color:'rgba(0,0,0,0)'},
        showlegend:false, hoverinfo:'skip'});
      traces.push({x: ret, y: ALT, xaxis: xa, yaxis: ya, type:'scatter', mode:'lines+markers',
        line:{color:ORANGE, width:1.3}, marker:{color:ORANGE, size:4.5},
        name:'Retrieval - True', legend: lg, legendrank:1, showlegend: c === 0, hoverinfo:'skip'});
      traces.push({x: apr, y: ALT, xaxis: xa, yaxis: ya, type:'scatter', mode:'lines+markers',
        line:{color:RED, width:1.3}, marker:{color:RED, size:4.5},
        name:'Apriori - True', legend: lg, legendrank:2, showlegend: c === 0, hoverinfo:'skip'});
      traces.push({x: avk, y: ALT, xaxis: xa, yaxis: ya, type:'scatter', mode:'lines+markers',
        line:{color:GREEN, width:1.3}, marker:{color:GREEN, size:4.5},
        name:'Retrieval - True x AVK', legend: lg, legendrank:3, showlegend: c === 0, hoverinfo:'skip'});
    }
  }
  layout.annotations.push({text: panelTitles[c], xref:'paper', yref:'paper', x:(xDom[c][0] + xDom[c][1]) / 2,
    y: yDom[0][1], xanchor:'center', yanchor:'bottom', yshift:2, showarrow:false,
    font:{family:FONT, size:14.5, color:'#000'}});
}

Plotly.newPlot('chart', traces, layout, {staticPlot:true, displayModeBar:false});
</script>
</body></html>
